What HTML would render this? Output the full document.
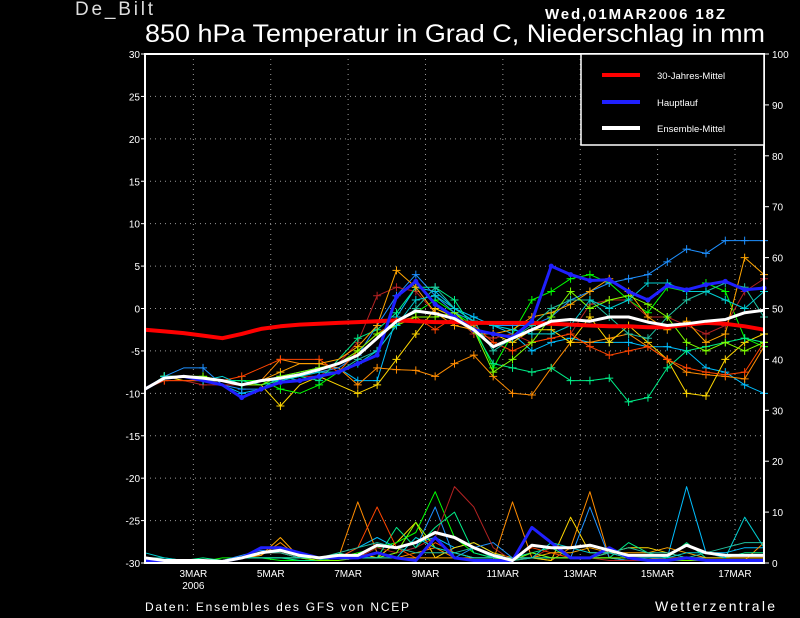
<!DOCTYPE html>
<html><head><meta charset="utf-8"><style>
html,body{margin:0;padding:0;background:#000;}
svg{display:block;font-family:"Liberation Sans",sans-serif;}
</style></head><body>
<svg id="chart" width="800" height="618" viewBox="0 0 800 618" xmlns="http://www.w3.org/2000/svg">
<rect width="800" height="618" fill="#000"/>
<text x="75" y="15" fill="#ddd" font-size="19" textLength="78">De_Bilt</text>
<text x="545" y="19" fill="#fff" font-size="15" font-weight="bold" textLength="180">Wed,01MAR2006 18Z</text>
<text x="145" y="42" fill="#fff" font-size="25" textLength="620" lengthAdjust="spacingAndGlyphs">850 hPa Temperatur in Grad C, Niederschlag in mm</text>
<g id="grid"></g>
<g id="marks"></g>
<g id="axes"></g>
<g>
<rect x="581" y="54" width="183" height="91" fill="#000" stroke="#fff" stroke-width="1.5"/>
<line x1="602" y1="75" x2="640" y2="75" stroke="#f00" stroke-width="4"/>
<text x="657" y="79" fill="#fff" font-size="9.5">30-Jahres-Mittel</text>
<line x1="602" y1="102" x2="640" y2="102" stroke="#2020ff" stroke-width="4"/>
<text x="657" y="106" fill="#fff" font-size="9.5">Hauptlauf</text>
<line x1="602" y1="128" x2="640" y2="128" stroke="#fff" stroke-width="4"/>
<text x="657" y="132" fill="#fff" font-size="9.5">Ensemble-Mittel</text>
</g>
<text x="145" y="611" fill="#fff" font-size="12" textLength="264">Daten: Ensembles des GFS von NCEP</text>
<text x="655" y="611" fill="#fff" font-size="14" textLength="120">Wetterzentrale</text>
</svg>
<script>
const tempTicks=[30,25,20,15,10,5,0,-5,-10,-15,-20,-25,-30];
const precTicks=[100,90,80,70,60,50,40,30,20,10,0];
const dateLabels=["3MAR","5MAR","7MAR","9MAR","11MAR","13MAR","15MAR","17MAR"];
const dateSteps=[2.5,6.5,10.5,14.5,18.5,22.5,26.5,30.5];
const climate=[-2.5,-2.7,-2.9,-3.2,-3.5,-3,-2.4,-2.1,-1.9,-1.8,-1.7,-1.6,-1.5,-1.4,-1.5,-1.6,-1.6,-1.7,-1.7,-1.7,-1.7,-1.8,-1.9,-2,-2.1,-2.1,-2.2,-2.2,-1.9,-1.7,-1.8,-2.1,-2.5];
const ensMean=[-9.5,-8.2,-8,-8.2,-8.5,-9,-8.5,-8.2,-7.8,-7.2,-6.5,-5.5,-3.5,-1.5,-0.3,-0.6,-1.2,-2.5,-4.5,-3.5,-2.5,-1.5,-1.3,-1.5,-1,-1,-1.6,-2,-1.8,-1.5,-1.3,-0.5,-0.2];
const mainRun=[-9.5,-8.2,-8,-8.5,-9,-10.5,-9.5,-8.7,-8.5,-8,-7.5,-6.5,-5.5,1.4,3.2,0.5,-1,-2.5,-3,-3.4,-1.5,5,4,3.3,3.4,2,1,2.7,2.2,2.8,3.2,2.2,2.4];
const ensMeanPrec=[1,0.5,0.5,0.5,0.3,1,2,2.5,1.5,1,1.5,1.5,3.5,3,4,6,5,3,1.5,0.5,3.5,3,3,3.5,2.5,1.5,1.5,1.5,3.5,2,1.5,1.5,1.5];
const mainPrec=[0.5,0.3,0.3,0.3,0.3,1,3,3,2,1,1,1,2,1,0.5,5,1,0.5,0.5,0.5,7,4,1,1,3,1,0.5,0.5,1,0.5,0.5,0.5,0.5];
const memberColors=["#00bfff","#ff8c00","#ffd700","#00ff00","#1e90ff","#b22222","#00ee88","#ff4500","#ffa500","#20c0a0","#7fff00","#00ced1"];
const memberTemps=[
[-9.5,-8,-8,-8.5,-9,-10,-9.5,-8,-7.5,-7,-7,-8.5,-8.5,-1,2.5,2,0,-1,-2,-3,-5,-4,-3.5,-4,-4,-4,-4.5,-4.5,-5,-7,-7.5,-9,-10],
[-9.5,-8,-8,-8.5,-8.5,-9,-8.5,-6,-6.5,-6.5,-7,-9,-7,-7.2,-7.3,-8,-6.5,-5.5,-8,-10,-10.2,-7,-4,-4,-3.5,-3,-4.5,-6,-7.5,-7.8,-8,-8.3,-4.5],
[-9.5,-8,-8.5,-8.5,-8.5,-9,-9,-11.5,-9,-8,-9,-10,-9,-6,-3,0,-1,-3,-3,-4,-2.5,-2.5,-4,-1,-4,-2,-4,-6,-10,-10.3,-6,-4,-3],
[-9.5,-8,-8,-8,-8.5,-8.5,-8.5,-9.5,-10,-9,-7.5,-5,-3,-1.5,-0.5,1,-0.5,-2,-7,-3,1,2,3.5,4,3,1,-0.5,2.5,2,3,2,-3.5,-4.5],
[-9.5,-8,-7,-7,-9,-9.5,-9.5,-8.5,-8,-7.5,-7,-5.5,-2,1.5,4,1.5,-0.5,-1.5,-2,-2,-2,-1,1,2,3,3.5,4,5.5,7,6.5,8,8,8],
[-9.5,-8.5,-8.5,-9,-9,-9,-9,-8.5,-8,-8,-6.5,-4,1.5,2.5,2,-0.5,-1,-3,-3.5,-3,-4,-3.5,-3,0.5,1,1,-1,-1,-2,-3,-2,2,3.5],
[-9.5,-8,-8,-8.5,-8.5,-8.5,-9,-8.5,-8,-8.5,-6,-3.5,-2.5,-0.5,2.5,2.5,1,-2.5,-6.5,-7,-7.5,-7,-8.5,-8.5,-8.2,-11,-10.5,-7,-5,-4.5,-4,-3.5,-4],
[-9.5,-8.5,-8.5,-8.5,-8.5,-8,-7,-6,-6,-6,-7.5,-5,-3,-1.5,-1,-2.5,-1,-2,-4,-5,-4,-3.5,-3,-4.5,-5.5,-5,-4.5,-6,-7,-7.5,-7.8,-7.5,-4],
[-9.5,-8,-8,-8.5,-8.5,-9,-8.5,-7.5,-6.5,-6.5,-6,-4.5,-2,4.5,2.5,-0.5,-2,-2.5,-3,-2.5,-1,-0.5,0.5,2,3.5,2,-1,-2.5,-1.5,-4,-3,6,4],
[-9.5,-8,-8,-8.5,-8.5,-9,-8.5,-8,-8.5,-8,-7.5,-6,-5,-2,0,2.5,0,-1.5,-5,-3.5,-2,0,1,1,-1,-3,-3.5,-1,1,2,3,2.5,-1],
[-9.5,-8,-8,-8,-8.5,-9,-9,-8,-7.5,-7,-6.5,-5,-3,-2,-1,-1,-0.5,-2.5,-7.5,-6,-4,-1,2,0,1,1.5,0.5,-1,-4,-5,-4,-5,-4],
[-9.5,-8,-8,-8.5,-8,-9,-8.5,-8.5,-8,-7.5,-7.5,-6.5,-5,-2,1,1.5,0,-1.5,-2,-2.5,-3,-3,-2,1,0,1,3,3,2,2,1,0,2]
];
const memberPrecs=[
[1,0.5,0.5,0.5,0.5,1,2,2,1,1,1,3,5,3,4,5,3,4,2,0.5,1,1,1,1,2,1,1,1,15,2,2,3,3],
[0.5,0.5,0.5,0.5,0.5,1,1.5,4,1,1,1,12,2,1,2,3,1,0.5,0.5,12,1,0.5,3,14,1,0.5,0.5,1,1,0.5,0.5,0.5,4],
[0.5,0.5,0.5,0.5,0.5,1,1,1,1,0.5,1,2,1,4,8,1,3,4,2,1,1,0.5,9,2,2,3,3,2,1,1,1,1,1],
[0.5,0.3,0.3,0.3,1,1,1,0.5,0.5,0.5,1,2,3,4,6,14,5,2,1,0.5,1,1,1,1,1,0.5,0.5,1,1,0.5,0.5,0.5,0.5],
[0.5,0.5,0.5,0.5,0.5,1.5,2.5,2,1,1,1,1,1,2,3,11,1,3,4,1,2,1,1,11,1,0.5,0.5,1,1,1,1,1,1],
[0.5,0.5,0.5,0.5,0.5,1,2,2,1,1,1,1,3,2,3,5,15,11,3,0.5,1,3,1,1,0.5,0.5,0.5,1,1,0.5,0.5,0.5,0.5],
[0.5,0.5,0.5,1,0.5,1,1,1,0.5,0.5,2,1,1,7,3,7,10,2,1,1,2,3,1,1,1,4,2,1,4,1,1,2,2],
[0.5,0.5,0.5,0.5,0.5,1,2,2,1,1,1,3,11,3,1,4,2,1,1,1,3,2,1,1,2,1,1,0.5,1,0.5,0.5,0.5,0.5],
[0.5,0.5,0.5,0.5,0.5,1,1.5,5,1,1,1,1,1,1,1,1,1,1,1,1,1,2,2,3,2,2,2,3,2,1,1,1,1],
[1,1,0.5,0.5,0.5,1,2,2,1,1,2,3,4,3,2,2,2,3,1,0.5,1,1,1,1,2,3,2,2,1,2,3,4,4],
[0.5,0.5,0.5,0.5,0.5,1,1,1,1,0.5,0.5,1,1,2,8,3,2,1,1,0.5,2,1,1,1,1,1,0.5,0.5,0.5,0.5,0.5,0.5,0.5],
[2,1,0.5,0.5,0.5,1,1,1,1,1,1,1,1,1,5,3,2,1,1,1,1,4,3,2,2,1,1,1,2,2,1,9,3]
];
const X0=145,X1=764,Y0=54,Y1=563,N=33;
const ns="http://www.w3.org/2000/svg";
function xs(i){return X0+(X1-X0)*i/(N-1);}
function yT(t){return Y1-(t+30)/60*(Y1-Y0);}
function yP(p){return Y1-p/100*(Y1-Y0);}
function mk(tag,attrs,parent){const e=document.createElementNS(ns,tag);for(const k in attrs)e.setAttribute(k,attrs[k]);parent.appendChild(e);return e;}
const grid=document.getElementById('grid'),marks=document.getElementById('marks'),axes=document.getElementById('axes');
tempTicks.forEach(t=>{if(t>-30&&t<30){const l=mk('line',{x1:X0,x2:X1,y1:yT(t),y2:yT(t),stroke:'#999','stroke-dasharray':'1,4','stroke-width':1},grid);

}
const tx=mk('text',{x:140,y:yT(t)+4,fill:'#fff','font-size':10,'text-anchor':'end'},axes);tx.textContent=t;


mk('line',{x1:141,x2:X0,y1:yT(t),y2:yT(t),stroke:'#fff'},axes);});
precTicks.forEach(p=>{const tx=mk('text',{x:772,y:yP(p)+4,fill:'#fff','font-size':10},axes);tx.textContent=p;


mk('line',{x1:X1,x2:769,y1:yP(p),y2:yP(p),stroke:'#fff'},axes);});
dateSteps.forEach((s,k)=>{const x=xs(s);const l=mk('line',{x1:x,x2:x,y1:Y0,y2:Y1,stroke:'#999','stroke-dasharray':'1,4'},grid);


const tx=mk('text',{x:x,y:577,fill:'#fff','font-size':10,'text-anchor':'middle'},axes);tx.textContent=dateLabels[k];

});
const yr=mk('text',{x:xs(2.5),y:589,fill:'#fff','font-size':10,'text-anchor':'middle'},axes);yr.textContent='2006';


function pts(arr,f){return arr.map((v,i)=>xs(i).toFixed(1)+','+f(v).toFixed(1)).join(' ');}
function line(arr,f,color,w,name){const p=mk('polyline',{points:pts(arr,f),fill:'none',stroke:color,'stroke-width':w,'stroke-linejoin':'round'},marks);

return p;}
memberPrecs.forEach((a,m)=>line(a,yP,memberColors[m],1,'member-precip-line'));
line(mainPrec,yP,'#2020ff',3,'main-run-precip');
line(ensMeanPrec,yP,'#fff',3,'ensemble-mean-precip');
memberTemps.forEach((a,m)=>{line(a,yT,memberColors[m],1,'member-temp-line');
a.forEach((v,i)=>{if(i%2==1||i>10){const x=xs(i),y=yT(v);const c=mk('path',{d:`M${x-4},${y}h8M${x},${y-4}v8`,stroke:memberColors[m],'stroke-width':1},marks);

}});});
line(climate,yT,'#f00',4,'climate-mean-line');
line(mainRun,yT,'#2020ff',3,'main-run-line');
mainRun.forEach((v,i)=>{if(i>4&&i%1==0){const c=mk('circle',{cx:xs(i),cy:yT(v),r:2.5,fill:'#2020ff'},marks);

}});
line(ensMean,yT,'#fff',3,'ensemble-mean-line');
mk('rect',{x:X0,y:Y0,width:X1-X0,height:Y1-Y0,fill:'none',stroke:'#fff','stroke-width':2},axes);
</script>
</body></html>
